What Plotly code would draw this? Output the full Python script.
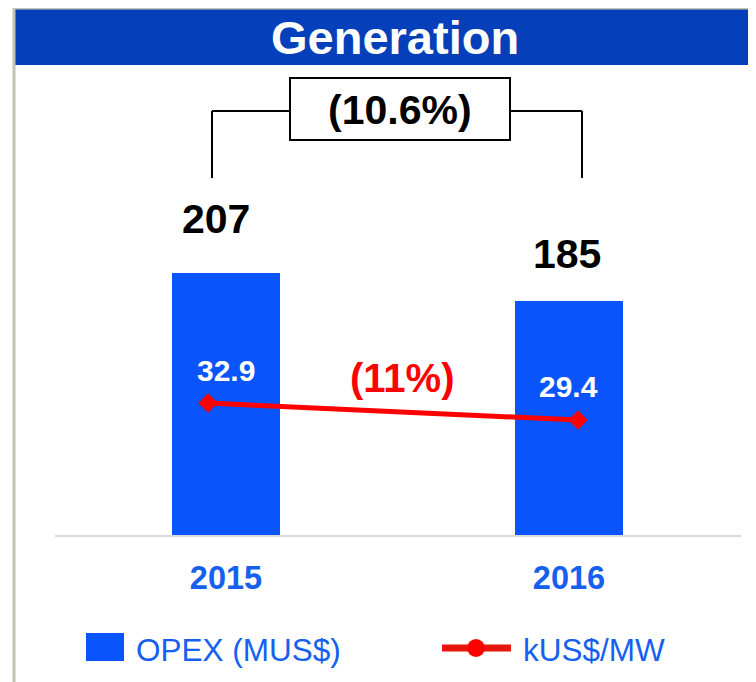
import plotly.graph_objects as go

# ---------------- data ----------------
years = ["2015", "2016"]
opex_musd = [207, 185]
kusd_per_mw = [32.9, 29.4]
opex_change_label = "(10.6%)"
kusd_change_label = "(11%)"
series_names = ["OPEX (MUS$)", "kUS$/MW"]
title_text = "Generation"

# ---------------- style ----------------
# page body has an 8px margin, so the figure is offset by 8px in the window
OFF = 8
W, H = 756 - OFF, 682 - OFF
ML, MR, MT, MB = 47, 15, 0, 146
PW, PH = W - ML - MR, H - MT - MB
FONT = "Liberation Sans, Arial, sans-serif"
BAR_BLUE = "#0A54FC"
TEXT_BLUE = "#1660F0"
HEADER_BLUE = "#0540BA"
RED = "#FF0000"


def px(x):
    # x given in window pixels
    return (x - OFF - ML) / PW


def py(y):
    # y given in window pixels
    return (OFF + MT + PH - y) / PH


fig = go.Figure()

fig.add_trace(go.Bar(
    x=years, y=opex_musd, name=series_names[0],
    marker=dict(color=BAR_BLUE, line=dict(width=0)),
    width=0.315, showlegend=False, xaxis="x", yaxis="y",
))

fig.add_trace(go.Scatter(
    x=years, y=kusd_per_mw, name=series_names[1],
    mode="lines+markers",
    line=dict(color=RED, width=5),
    marker=dict(symbol="diamond", size=15, color=RED),
    showlegend=False, xaxis="x2", yaxis="y2",
))

annotations = []
# bar value labels
bar_label_shift = [(-10, 54), (-2, 47)]
for i, v in enumerate(opex_musd):
    annotations.append(dict(
        x=i, y=v, xref="x", yref="y", text=f"<b>{v}</b>",
        showarrow=False, xanchor="center", yanchor="middle",
        xshift=bar_label_shift[i][0], yshift=bar_label_shift[i][1],
        font=dict(family=FONT, size=41, color="black"),
    ))
# line value labels (inside bars)
line_label_shift = [33, 34]
for i, v in enumerate(kusd_per_mw):
    annotations.append(dict(
        x=i, y=v, xref="x", yref="y2", text=f"<b>{v}</b>",
        showarrow=False, xanchor="center", yanchor="middle",
        yshift=line_label_shift[i],
        font=dict(family=FONT, size=30, color="white"),
    ))

# header title
annotations.append(dict(
    x=px(395), y=py(38), xref="paper", yref="paper", text=f"<b>{title_text}</b>",
    showarrow=False, xanchor="center", yanchor="middle",
    font=dict(family=FONT, size=47, color="white"),
))
# bracket label
annotations.append(dict(
    x=px(400), y=py(110), xref="paper", yref="paper", text=f"<b>{opex_change_label}</b>",
    showarrow=False, xanchor="center", yanchor="middle",
    font=dict(family=FONT, size=41, color="black"),
))
# line change label
annotations.append(dict(
    x=px(402), y=py(378), xref="paper", yref="paper", text=f"<b>{kusd_change_label}</b>",
    showarrow=False, xanchor="center", yanchor="middle",
    font=dict(family=FONT, size=40, color=RED),
))
# legend texts
annotations.append(dict(
    x=px(134), y=py(650), xref="paper", yref="paper", text=series_names[0],
    showarrow=False, xanchor="left", yanchor="middle",
    font=dict(family=FONT, size=31.5, color=TEXT_BLUE),
))
annotations.append(dict(
    x=px(521), y=py(650), xref="paper", yref="paper", text=series_names[1],
    showarrow=False, xanchor="left", yanchor="middle",
    font=dict(family=FONT, size=31.5, color=TEXT_BLUE),
))

shapes = []
# frame border (gray)
shapes.append(dict(type="line", xref="paper", yref="paper",
                   x0=px(14), x1=px(14), y0=py(8), y1=py(690),
                   line=dict(color="#C3C3B4", width=3)))
shapes.append(dict(type="line", xref="paper", yref="paper",
                   x0=px(13), x1=px(760), y0=py(8.5), y1=py(8.5),
                   line=dict(color="#C3C3B4", width=2)))
# header bar
shapes.append(dict(type="rect", xref="paper", yref="paper",
                   x0=px(15), x1=px(760), y0=py(65), y1=py(9),
                   fillcolor=HEADER_BLUE, line=dict(width=0), layer="below"))
# baseline
shapes.append(dict(type="line", xref="paper", yref="paper",
                   x0=0, x1=1, y0=0, y1=0,
                   line=dict(color="#D9D9D9", width=2)))
# bracket
blk = dict(color="black", width=2)
shapes.append(dict(type="line", xref="paper", yref="paper",
                   x0=px(212), x1=px(212), y0=py(178), y1=py(111), line=blk))
shapes.append(dict(type="line", xref="paper", yref="paper",
                   x0=px(212), x1=px(290), y0=py(111), y1=py(111), line=blk))
shapes.append(dict(type="rect", xref="paper", yref="paper",
                   x0=px(290), x1=px(510), y0=py(140), y1=py(78),
                   fillcolor="white", line=blk))
shapes.append(dict(type="line", xref="paper", yref="paper",
                   x0=px(510), x1=px(582), y0=py(111), y1=py(111), line=blk))
shapes.append(dict(type="line", xref="paper", yref="paper",
                   x0=px(582), x1=px(582), y0=py(178), y1=py(111), line=blk))
# legend markers
shapes.append(dict(type="rect", xref="paper", yref="paper",
                   x0=px(86), x1=px(124), y0=py(661), y1=py(633),
                   fillcolor=BAR_BLUE, line=dict(width=0)))
shapes.append(dict(type="line", xref="paper", yref="paper",
                   x0=px(442), x1=px(511), y0=py(648), y1=py(648),
                   line=dict(color="#E8170C", width=7)))
shapes.append(dict(type="circle", xref="paper", yref="paper",
                   x0=px(467), x1=px(485), y0=py(657), y1=py(639),
                   fillcolor=RED, line=dict(width=0)))

fig.update_layout(
    width=W, height=H,
    margin=dict(l=ML, r=MR, t=MT, b=MB, pad=0),
    paper_bgcolor="white", plot_bgcolor="rgba(0,0,0,0)",
    showlegend=False,
    bargap=0,
    xaxis=dict(type="category", range=[-0.4985, 1.5015], showgrid=False,
               zeroline=False, showline=False, ticks="outside", ticklen=0,
               ticklabelstandoff=13, automargin=False,
               tickfont=dict(family=FONT, size=32.5, color=TEXT_BLUE, weight="bold")),
    yaxis=dict(range=[0, PH / 1.2705], visible=False, automargin=False),
    xaxis2=dict(type="category", range=[-0.4135, 1.4405], overlaying="x",
                visible=False, automargin=False),
    yaxis2=dict(range=[5.52, 114.23], overlaying="y", visible=False,
                automargin=False),
    annotations=annotations,
    shapes=shapes,
)

fig.write_html("out.html")
